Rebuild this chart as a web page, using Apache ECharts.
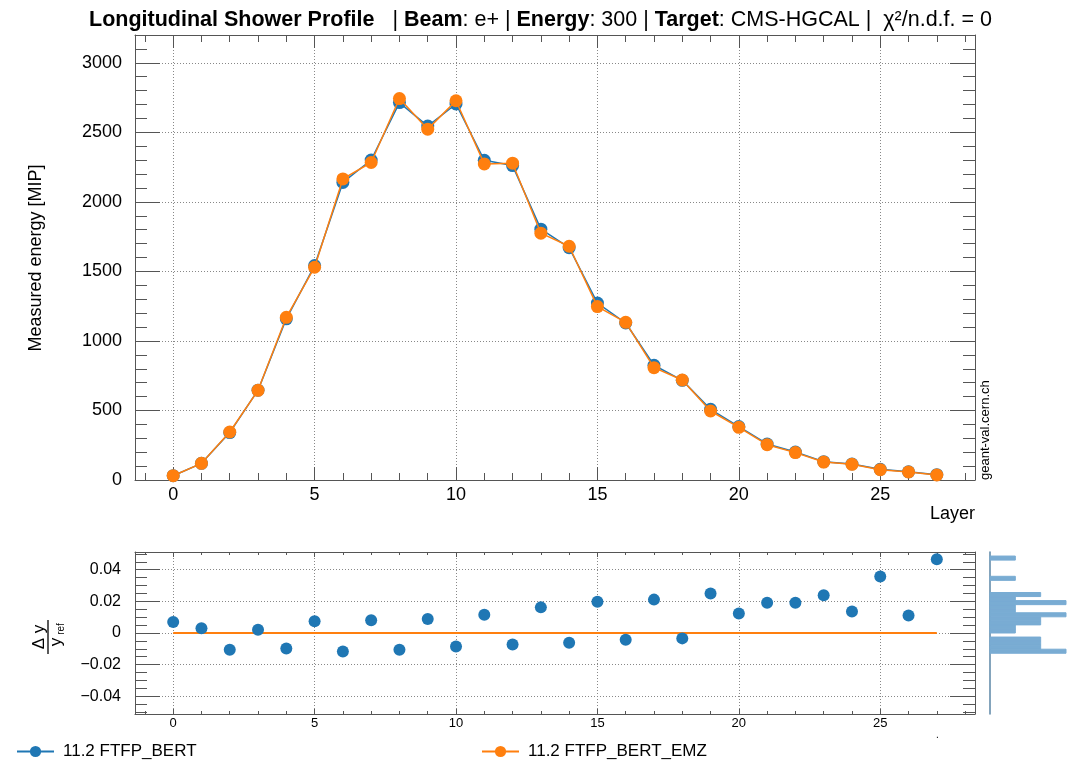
<!DOCTYPE html>
<html><head><meta charset="utf-8">
<script src="https://cdn.jsdelivr.net/npm/echarts@6.0.0/dist/echarts.min.js"></script>
<style>html,body{margin:0;padding:0;background:#fff}#c{width:1081px;height:761px}</style>
</head><body><div id="c"></div>
<script>
// ---------------- data ----------------
const layers = [0,1,2,3,4,5,6,7,8,9,10,11,12,13,14,15,16,17,18,19,20,21,22,23,24,25,26,27];
const bertEnergy = [31,120,341,646,1159,1542,2140,2301,2714,2545,2704,2299,2261,1804,1671,1272,1129,825,717,508,384,259,201,132,115,77,59,38];
const emzEnergy  = [31,120,345,645,1170,1530,2165,2283,2743,2523,2727,2273,2278,1775,1681,1247,1134,808,719,496,379,254,197,129,113,74,58,36];
const bertRatio  = [0.0070,0.0030,-0.0106,0.0021,-0.0098,0.0075,-0.0117,0.0081,-0.0106,0.0089,-0.0085,0.0115,-0.0072,0.0162,-0.0062,0.0198,-0.0043,0.0211,-0.0034,0.0249,0.0123,0.0191,0.0191,0.0238,0.0136,0.0357,0.0111,0.0466];
const emzRatio   = [0,0,0,0,0,0,0,0,0,0,0,0,0,0,0,0,0,0,0,0,0,0,0,0,0,0,0,0];
const seriesNames = ['11.2 FTFP_BERT', '11.2 FTFP_BERT_EMZ'];
const xTickMajor = [0,5,10,15,20,25];
const yTickMajor = [0,500,1000,1500,2000,2500,3000];
const rTickMajor = [-0.04,-0.02,0,0.02,0.04];

// ---------------- layout constants ----------------
const X_MIN = -1.35, X_MAX = 28.35;
const Y_MAX = 3200;
const R_LIM = 0.0512;
const N_BINS = 40;
const FONT = 'Liberation Sans, Arial, Helvetica, sans-serif';
const BLUE = '#1f77b4', ORANGE = '#ff7f0e';
const FRAME = '#555', TICK = '#555', GRIDC = '#888';

const xTickMinor = []; for (let v = -1; v <= 28; v++) xTickMinor.push(v);
const yTickMinor = []; for (let v = 0; v <= 3200; v += 100) yTickMinor.push(v);
const rTickMinor = []; for (let k = -10; k <= 10; k++) rTickMinor.push(+(k * 0.005).toFixed(3));

// histogram of ratio values
const binW = 2 * R_LIM / N_BINS;
const counts = new Array(N_BINS).fill(0);
bertRatio.forEach(v => { const k = Math.floor((v + R_LIM) / binW); if (k >= 0 && k < N_BINS) counts[k]++; });
const histData = [];
counts.forEach((c, k) => { if (c > 0) histData.push([c, -R_LIM + k * binW, -R_LIM + (k + 1) * binW]); });

function minusFmt(v) { return v < 0 ? '\u2212' + String(Math.abs(v)) : String(v); }
function plainFmt(v) { return String(v); }

function axis(kind, gridIndex, position, min, max, ticks, len, o) {
  o = o || {};
  return {
    type: 'value', gridIndex, position, min, max,
    axisLine: { show: !!o.line, onZero: false, lineStyle: { color: FRAME, width: 1 } },
    axisTick: { show: true, inside: true, length: len, customValues: ticks, lineStyle: { color: TICK, width: 1 } },
    axisLabel: Object.assign({ show: !!o.labels, customValues: ticks, fontFamily: FONT, color: '#000', formatter: plainFmt }, o.label || {}),
    splitLine: { show: !!o.split, lineStyle: { color: GRIDC, type: [1, 2], width: 1 } },
    minorTick: { show: false }, minorSplitLine: { show: false }
  };
}

const xAxes = [
  axis('x', 0, 'bottom', X_MIN, X_MAX, xTickMajor, 13, { line: true, labels: true, split: true, label: { fontSize: 18, margin: 6 } }),
  axis('x', 0, 'bottom', X_MIN, X_MAX, xTickMinor, 7, {}),
  axis('x', 0, 'top', X_MIN, X_MAX, xTickMajor, 13, { line: true }),
  axis('x', 0, 'top', X_MIN, X_MAX, xTickMinor, 7, {}),
  axis('x', 1, 'bottom', X_MIN, X_MAX, xTickMajor, 5, { line: true, labels: true, split: true, label: { fontSize: 13, margin: 3 } }),
  axis('x', 1, 'bottom', X_MIN, X_MAX, xTickMinor, 3, {}),
  axis('x', 1, 'top', X_MIN, X_MAX, xTickMajor, 5, { line: true }),
  axis('x', 1, 'top', X_MIN, X_MAX, xTickMinor, 3, {}),
  { type: 'value', gridIndex: 2, min: 0, max: 3, show: false }
];
const yAxes = [
  axis('y', 0, 'left', 0, Y_MAX, yTickMajor, 25, { line: true, labels: true, split: true, label: { fontSize: 18, margin: 13 } }),
  axis('y', 0, 'left', 0, Y_MAX, yTickMinor, 12, {}),
  axis('y', 0, 'right', 0, Y_MAX, yTickMajor, 25, { line: true }),
  axis('y', 0, 'right', 0, Y_MAX, yTickMinor, 12, {}),
  axis('y', 1, 'left', -R_LIM, R_LIM, rTickMajor, 25, { line: true, labels: true, split: true, label: { fontSize: 16, margin: 14, formatter: minusFmt } }),
  axis('y', 1, 'left', -R_LIM, R_LIM, rTickMinor, 12, {}),
  axis('y', 1, 'right', -R_LIM, R_LIM, rTickMajor, 25, { line: true }),
  axis('y', 1, 'right', -R_LIM, R_LIM, rTickMinor, 12, {}),
  { type: 'value', gridIndex: 2, min: -R_LIM, max: R_LIM,
    axisLine: { show: true, onZero: false, lineStyle: { color: '#5b86a6', width: 1.5 } },
    axisTick: { show: false }, axisLabel: { show: false }, splitLine: { show: false } }
];

const option = {
  animation: false,
  backgroundColor: '#fff',
  textStyle: { fontFamily: FONT },
  title: {
    left: 'center', top: 4,
    text: '{b|Longitudinal Shower Profile}{r|   | }{b|Beam}{r|: e+ | }{b|Energy}{r|: 300 | }{b|Target}{r|: CMS-HGCAL |  \u03c7\u00b2/n.d.f. = 0}',
    textStyle: {
      rich: {
        b: { fontFamily: FONT, fontSize: 21.5, fontWeight: 'bold', color: '#000' },
        r: { fontFamily: FONT, fontSize: 21.5, fontWeight: 'normal', color: '#000' }
      }
    }
  },
  grid: [
    { left: 135, top: 35, width: 840, height: 445 },
    { left: 135, top: 552, width: 840, height: 162 },
    { left: 990, top: 552, width: 76, height: 162 }
  ],
  xAxis: xAxes,
  yAxis: yAxes,
  legend: [
    { data: [seriesNames[0]], left: 16, top: 743, padding: 0, itemWidth: 37, itemHeight: 14, selectedMode: false,
      textStyle: { fontSize: 17, fontFamily: FONT, color: '#000', padding: [0, 0, 0, 4] } },
    { data: [seriesNames[1]], left: 481, top: 743, padding: 0, itemWidth: 37, itemHeight: 14, selectedMode: false,
      textStyle: { fontSize: 17, fontFamily: FONT, color: '#000', padding: [0, 0, 0, 4] } }
  ],
  series: [
    { name: seriesNames[0], type: 'line', xAxisIndex: 0, yAxisIndex: 0,
      data: layers.map((l, i) => [l, bertEnergy[i]]),
      symbol: 'circle', symbolSize: 13, lineStyle: { color: BLUE, width: 1.5 }, itemStyle: { color: BLUE }, z: 3 },
    { name: seriesNames[1], type: 'line', xAxisIndex: 0, yAxisIndex: 0,
      data: layers.map((l, i) => [l, emzEnergy[i]]),
      symbol: 'circle', symbolSize: 13, lineStyle: { color: ORANGE, width: 1.5 }, itemStyle: { color: ORANGE }, z: 4 },
    { name: 'ratio EMZ', type: 'line', xAxisIndex: 4, yAxisIndex: 4,
      data: layers.map((l, i) => [l, emzRatio[i]]),
      symbol: 'none', lineStyle: { color: ORANGE, width: 2 }, z: 3 },
    { name: 'ratio BERT', type: 'scatter', xAxisIndex: 4, yAxisIndex: 4,
      data: layers.map((l, i) => [l, bertRatio[i]]),
      symbol: 'circle', symbolSize: 12, itemStyle: { color: BLUE, opacity: 1 }, z: 4 },
    { name: 'hist', type: 'custom', xAxisIndex: 8, yAxisIndex: 8, data: histData,
      renderItem: function (params, api) {
        const p0 = api.coord([0, api.value(2)]);
        const p1 = api.coord([api.value(0), api.value(1)]);
        return { type: 'rect', shape: { x: p0[0], y: p0[1], width: p1[0] - p0[0], height: p1[1] - p0[1] },
          style: { fill: '#79acd3', stroke: '#79acd3', lineWidth: 1 } };
      } }
  ],
  graphic: [
    { type: 'text', x: 36, y: 258, rotation: Math.PI / 2,
      style: { text: 'Measured energy [MIP]', fontSize: 18, fontFamily: FONT, fill: '#000', align: 'center', verticalAlign: 'middle' } },
    { type: 'text', x: 975, y: 514,
      style: { text: 'Layer', fontSize: 18, fontFamily: FONT, fill: '#000', align: 'right', verticalAlign: 'middle' } },
    { type: 'text', x: 985, y: 480, rotation: Math.PI / 2,
      style: { text: 'geant-val.cern.ch', fontSize: 13, fontFamily: FONT, fill: '#000', align: 'left', verticalAlign: 'middle' } },
    { type: 'group', x: 48, y: 637, rotation: Math.PI / 2, children: [
      { type: 'text', x: 0, y: -9, style: { text: '\u0394 y', fontSize: 17, fontFamily: FONT, fill: '#000', align: 'center', verticalAlign: 'middle' } },
      { type: 'line', shape: { x1: -17, y1: 0, x2: 17, y2: 0 }, style: { stroke: '#000', lineWidth: 1.3 } },
      { type: 'text', x: -5, y: 8, style: { text: 'y', fontSize: 17, fontFamily: FONT, fill: '#000', align: 'center', verticalAlign: 'middle' } },
      { type: 'text', x: 8, y: 13, style: { text: 'ref', fontSize: 10, fontFamily: FONT, fill: '#000', align: 'center', verticalAlign: 'middle' } }
    ] },
    { type: 'text', x: 936, y: 730, style: { text: '.', fontSize: 10, fontFamily: FONT, fill: '#000' } }
  ]
};

const chart = echarts.init(document.getElementById('c'), null, { renderer: 'canvas' });
chart.setOption(option);
</script>
</body></html>
